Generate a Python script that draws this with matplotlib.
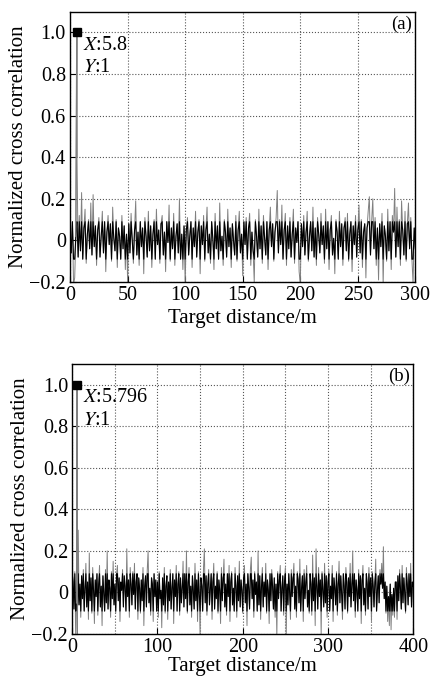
import numpy as np
import matplotlib
matplotlib.use("Agg")
import matplotlib.pyplot as plt
from matplotlib.ticker import MultipleLocator

plt.rcParams["font.family"] = ["Liberation Serif", "DejaVu Serif"]
plt.rcParams["mathtext.fontset"] = "stix"

# panel (a): noise samples at 1 m steps (0..300 m), peak at 5.8 m
noise_a = [
    0.04, -0.06, 0.09, -0.21, -0.18, 0.02, 0.40, -0.08, 0.12, -0.05, 0.23, -0.09, 0.06, 0.15, -0.11, 0.03, 0.10, -0.04, 0.18, -0.07,
    0.22, -0.03, 0.07, -0.12, 0.05, 0.11, -0.08, 0.02, 0.14, -0.06, 0.09, -0.15, 0.04, 0.12, -0.02, 0.08, -0.10, 0.16, 0.01, -0.05,
    0.10, -0.13, 0.06, 0.02, -0.09, 0.12, -0.04, 0.07, -0.14, 0.03, -0.20, 0.08, -0.06, 0.13, 0.00, -0.11, 0.05, 0.19, -0.07, 0.04,
    -0.12, 0.09, -0.03, 0.06, -0.16, 0.11, 0.02, -0.08, 0.14, -0.05, 0.07, -0.13, 0.03, 0.10, -0.09, 0.15, -0.02, 0.05, -0.11, 0.08,
    0.12, -0.07, 0.04, -0.15, 0.09, -0.01, 0.17, -0.10, 0.06, -0.04, 0.13, -0.12, 0.02, 0.08, -0.06, 0.20, -0.09, 0.03, -0.14, 0.07,
    -0.21, 0.05, 0.11, -0.07, 0.02, 0.09, -0.13, 0.06, -0.03, 0.14, -0.08, 0.04, 0.10, -0.16, 0.07, -0.02, 0.12, -0.10, 0.05, 0.16,
    -0.06, 0.03, -0.11, 0.09, 0.01, -0.14, 0.13, -0.04, 0.07, -0.09, 0.18, -0.05, 0.02, -0.12, 0.10, 0.04, -0.08, 0.15, -0.03, 0.06,
    -0.13, 0.08, 0.00, -0.07, 0.12, -0.10, 0.05, 0.14, -0.06, 0.03, -0.17, 0.09, -0.02, 0.11, -0.09, 0.06, 0.13, -0.12, 0.04, -0.05,
    -0.20, 0.10, 0.02, -0.08, 0.15, -0.04, 0.07, -0.11, 0.12, 0.01, -0.07, 0.09, -0.14, 0.05, 0.16, -0.03, 0.08, -0.10, 0.04, 0.11,
    0.24, -0.06, 0.10, -0.02, 0.17, -0.09, 0.05, 0.13, -0.12, 0.07, -0.04, 0.11, -0.08, 0.03, 0.15, -0.11, 0.06, -0.01, 0.09, -0.15,
    -0.21, 0.08, -0.03, 0.12, -0.07, 0.04, 0.14, -0.10, 0.02, 0.09, -0.05, 0.16, -0.08, 0.06, -0.12, 0.11, 0.03, -0.06, 0.13, -0.02,
    0.07, -0.11, 0.15, -0.04, 0.09, -0.14, 0.05, 0.12, -0.07, 0.01, -0.16, 0.10, 0.04, -0.09, 0.14, -0.03, 0.08, -0.12, 0.06, 0.11,
    -0.05, 0.13, -0.10, 0.03, 0.09, -0.15, 0.07, -0.02, 0.12, -0.08, 0.05, 0.17, -0.06, 0.10, -0.13, 0.04, 0.08, -0.18, 0.06, 0.14,
    0.21, -0.07, 0.09, 0.20, -0.04, 0.11, -0.12, 0.06, -0.19, 0.08, -0.03, 0.13, -0.21, 0.07, 0.02, -0.10, 0.15, -0.05, 0.09, -0.14,
    0.12, 0.04, 0.25, -0.08, 0.16, -0.03, 0.10, -0.12, 0.19, 0.05, -0.07, 0.14, -0.10, 0.08, 0.18, -0.04, 0.11, -0.09, -0.21, 0.06,
    -0.04,
]
peak_a = (5.8, 1.0)

# panel (b): noise samples at 1 m steps (0..400 m), peak at 5.796 m
noise_b = [
    0.13, 0.05, -0.08, 0.10, -0.20, -0.05, -0.20, 0.30, -0.06, 0.04, -0.12, 0.08, -0.03, 0.11, -0.09, 0.02, 0.14, -0.07, 0.05, -0.13,
    0.19, -0.04, 0.07, -0.10, 0.12, 0.01, -0.15, 0.06, -0.02, 0.09, -0.11, 0.04, 0.13, -0.07, 0.03, -0.16, 0.08, 0.00, -0.09, 0.11,
    -0.05, 0.20, -0.08, 0.06, 0.02, -0.12, 0.10, -0.03, 0.15, -0.06, 0.04, -0.10, 0.09, 0.13, -0.04, 0.07, -0.14, 0.05, 0.01, 0.11,
    -0.07, 0.08, 0.03, -0.09, 0.21, -0.02, 0.06, -0.12, 0.12, 0.04, -0.06, 0.10, -0.01, 0.14, -0.08, 0.05, 0.09, -0.13, 0.07, 0.02,
    -0.10, 0.06, -0.04, 0.12, -0.16, 0.03, 0.08, -0.07, 0.11, 0.20, -0.05, 0.02, -0.11, 0.07, 0.04, -0.14, 0.09, -0.02, 0.06, -0.09,
    0.05, -0.12, 0.10, -0.03, 0.01, -0.17, 0.07, -0.06, 0.12, -0.10, 0.03, 0.08, -0.13, 0.05, -0.04, 0.11, -0.08, 0.02, 0.09, -0.15,
    0.06, -0.02, 0.13, -0.09, 0.04, 0.10, -0.11, 0.07, -0.05, 0.02, 0.15, -0.07, 0.09, -0.03, 0.20, -0.10, 0.05, 0.12, -0.06, 0.03,
    -0.12, 0.08, 0.01, -0.08, 0.14, -0.04, 0.06, -0.14, 0.10, -0.01, -0.21, 0.07, 0.03, -0.09, 0.12, 0.21, -0.05, 0.08, -0.11, 0.04,
    0.11, -0.06, 0.02, 0.09, -0.13, 0.05, 0.14, -0.08, 0.03, -0.03, 0.10, -0.10, 0.06, 0.01, -0.15, 0.12, -0.04, 0.07, 0.16, -0.07,
    0.04, -0.11, 0.09, -0.02, 0.13, -0.14, 0.05, 0.10, -0.06, 0.02, -0.09, 0.12, 0.03, -0.12, 0.08, -0.04, 0.15, -0.07, 0.06, 0.01,
    -0.10, 0.07, 0.13, -0.05, 0.04, -0.16, 0.09, 0.02, -0.08, 0.11, 0.17, -0.03, 0.06, -0.12, 0.10, -0.01, 0.05, -0.09, 0.20, -0.06,
    0.08, -0.13, 0.03, 0.12, -0.07, 0.05, -0.02, 0.14, -0.10, 0.06, 0.01, -0.15, 0.09, -0.04, 0.11, 0.03, -0.08, 0.07, -0.12, 0.04,
    -0.21, 0.10, -0.03, 0.06, 0.13, -0.09, 0.02, 0.08, -0.11, 0.05, 0.12, -0.21, 0.04, -0.06, 0.09, 0.00, -0.13, 0.11, -0.02, 0.07,
    0.14, -0.08, 0.03, -0.12, 0.10, 0.06, -0.05, 0.16, -0.09, 0.02, 0.08, -0.14, 0.11, -0.03, 0.05, 0.13, -0.07, 0.01, -0.10, 0.09,
    0.04, -0.11, 0.18, -0.04, 0.07, -0.16, 0.21, 0.03, -0.08, 0.12, -0.02, 0.06, -0.20, 0.10, 0.01, -0.07, 0.14, -0.05, 0.08, -0.12,
    0.05, 0.11, -0.09, 0.03, -0.03, 0.13, -0.14, 0.07, 0.02, -0.06, 0.10, -0.11, 0.04, 0.15, -0.05, 0.08, -0.01, -0.13, 0.09, 0.03,
    -0.08, 0.12, 0.05, -0.10, 0.07, -0.02, 0.14, -0.07, 0.04, 0.20, -0.04, 0.09, -0.12, 0.06, 0.01, -0.09, 0.11, -0.03, 0.08, -0.15,
    0.06, 0.13, -0.06, 0.02, -0.11, 0.09, 0.04, -0.08, 0.12, -0.02, 0.07, -0.14, 0.10, 0.03, -0.07, 0.05, 0.16, -0.09, 0.01, 0.08,
    -0.05, 0.11, 0.04, 0.14, 0.02, 0.22, -0.03, 0.05, -0.10, 0.03, -0.14, -0.02, -0.16, 0.04, -0.18, -0.01, -0.11, 0.02, -0.12, 0.05,
    0.05, -0.13, 0.08, -0.04, 0.11, 0.02, -0.08, 0.13, -0.05, 0.07, 0.00, -0.10, 0.12, 0.04, -0.06, 0.09, -0.02, 0.14, -0.07, 0.05,
    0.03,
]
peak_b = (5.796, 1.0)

panels = [
    ("(a)", noise_a, peak_a, "5.8", 300, 50, 3, [0.163, 0.584, 0.803, 0.399]),
    ("(b)", noise_b, peak_b, "5.796", 400, 100, 0, [0.168, 0.065, 0.793, 0.398]),
]

fig = plt.figure(figsize=(4.3, 6.78), dpi=100)

for tag, noise, peak, xtxt, xmax, xstep, lpad, rect in panels:
    ax = fig.add_axes(rect)
    x = np.arange(len(noise), dtype=float)
    y = np.array(noise, dtype=float)
    k = np.searchsorted(x, peak[0])
    x = np.insert(x, k, peak[0])
    y = np.insert(y, k, peak[1])
    # grey full trace, black trace limited to the dense core band
    core = np.clip(y, -0.09, 0.09)
    ax.plot(x, y, color="#808080", lw=0.7)
    ax.plot(x, core, color="black", lw=0.8)
    ax.plot(x[k - 1:k + 2], y[k - 1:k + 2], color="#808080", lw=0.9)
    ax.plot(peak[0], peak[1], "s", color="black", ms=5.5)
    ax.annotate(f"$X$:{xtxt}", (peak[0], 0.917), xytext=(4.5, 0), textcoords="offset points",
                fontsize=14.5, va="baseline")
    ax.annotate("$Y$:1", (peak[0], 0.808), xytext=(4.5, 0), textcoords="offset points",
                fontsize=14.5, va="baseline")
    ax.text(0.99, 0.985, tag, transform=ax.transAxes, ha="right", va="top", fontsize=13.5)

    ax.set_xlim(0, xmax)
    ax.set_ylim(-0.2, 1.1)
    ax.xaxis.set_major_locator(MultipleLocator(xstep))
    ax.xaxis.set_minor_locator(MultipleLocator(50))
    ax.set_yticks([-0.2, 0, 0.2, 0.4, 0.6, 0.8, 1.0])
    ax.set_yticklabels(["\u22120.2", "0", "0.2", "0.4", "0.6", "0.8", "1.0"])
    ax.grid(True, which="both", linestyle=":", color="#555555", lw=0.8)
    ax.tick_params(direction="in", labelsize=14.5, length=4, pad=3)
    ax.tick_params(which="minor", length=0)
    for s in ax.spines.values():
        s.set_linewidth(1.0)
    ax.set_xlabel("Target distance/m", fontsize=15, labelpad=lpad)
    ax.set_ylabel("Normalized cross correlation", fontsize=15, labelpad=1)

fig.savefig("out.png", dpi=100)
